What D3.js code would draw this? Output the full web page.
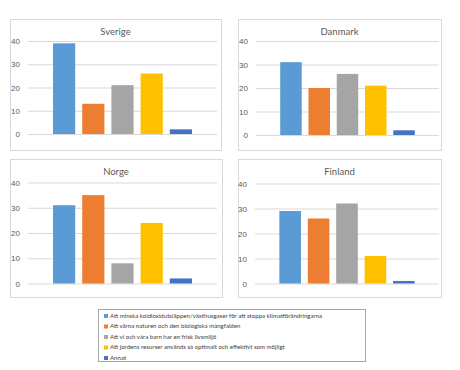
<!DOCTYPE html>
<html>
<head>
<meta charset="utf-8">
<script src="https://cdn.jsdelivr.net/npm/d3@7"></script>
<style>
  html, body { margin: 0; padding: 0; background: #fff; }
  svg { display: block; font-family: Lato, "Open Sans", sans-serif; }
</style>
</head>
<body>
<svg id="chart" width="460" height="370"></svg>
<script>
// ---- Data ----
const countries = ["Sverige", "Danmark", "Norge", "Finland"];
const seriesNames = [
  "Att minska koldioxidutsläppen/växthusgaser för att stoppa klimatförändringarna",
  "Att värna naturen och den biologiska mångfalden",
  "Att vi och våra barn har en frisk livsmiljö",
  "Att jordens resurser används så optimalt och effektivt som möjligt",
  "Annat"
];
const sverige = [39, 13, 21, 26, 2];
const danmark = [31, 20, 26, 21, 2];
const norge   = [31, 35, 8, 24, 2];
const finland = [29, 26, 32, 11, 1];
const yTicks = [0, 10, 20, 30, 40];
const colors = ["#5B9BD5", "#ED7D31", "#A5A5A5", "#FFC000", "#4472C4"];

const valuesByCountry = [sverige, danmark, norge, finland];

// ---- Layout ----
const panels = [
  { box: [10, 19, 211, 131], plot: [28, 217, 41, 134], titleY: 33 },
  { box: [238, 19, 203, 131], plot: [256, 439, 41, 135], titleY: 33 },
  { box: [10, 159, 212, 138], plot: [28, 217, 182.5, 283.5], titleY: 173 },
  { box: [238, 159, 203, 138], plot: [255, 439, 183.5, 283.5], titleY: 173 }
];

const svg = d3.select("#chart");

countries.forEach((c, i) => {
  const p = panels[i];
  const vals = valuesByCountry[i];
  const g = svg.append("g");
  const [bx, by, bw, bh] = p.box;
  g.append("rect")
    .attr("x", bx + 0.5).attr("y", by + 0.5)
    .attr("width", bw).attr("height", bh)
    .attr("fill", "#fff").attr("stroke", "#d9d9d9").attr("stroke-width", 1);

  const [x0, x1, yTop, yBot] = p.plot;
  const y = d3.scaleLinear().domain([0, 40]).range([yBot, yTop]);
  const outer = d3.scaleBand().domain([c]).range([x0, x1]).paddingOuter(0.18);
  const inner = d3.scaleBand().domain(d3.range(seriesNames.length))
    .range([outer(c), outer(c) + outer.bandwidth()])
    .paddingInner(0.24).paddingOuter(0);

  // gridlines + tick labels
  const axis = d3.axisLeft(y).tickValues(yTicks).tickSize(-(x1 - x0)).tickPadding(8)
    .tickFormat(d3.format("d"));
  const ax = g.append("g").attr("transform", `translate(${x0},0)`).call(axis);
  ax.select(".domain").remove();
  ax.selectAll(".tick line").attr("stroke", "#d9d9d9").attr("stroke-width", 1);
  ax.selectAll(".tick text").attr("fill", "#595959").attr("font-size", "8px");

  // bars
  g.selectAll("rect.bar").data(vals).enter().append("rect")
    .attr("class", "bar")
    .attr("x", (d, j) => inner(j))
    .attr("width", inner.bandwidth())
    .attr("y", d => y(d))
    .attr("height", d => y(0) - y(d))
    .attr("fill", (d, j) => colors[j]);

  // title
  g.append("text")
    .attr("x", bx + bw / 2).attr("y", p.titleY)
    .attr("text-anchor", "middle").attr("dominant-baseline", "middle")
    .attr("fill", "#595959").attr("font-size", "9.5px")
    .text(c);
});

// ---- Legend ----
const leg = svg.append("g");
leg.append("rect")
  .attr("x", 98.5).attr("y", 309.5).attr("width", 267).attr("height", 52)
  .attr("fill", "#fff").attr("stroke", "#a6a6a6").attr("stroke-width", 1);
seriesNames.forEach((s, j) => {
  const yy = 316 + j * 10.5;
  leg.append("rect")
    .attr("x", 104).attr("y", yy - 2).attr("width", 4).attr("height", 4)
    .attr("fill", colors[j]);
  leg.append("text")
    .attr("x", 110).attr("y", yy)
    .attr("dominant-baseline", "middle")
    .attr("font-size", "6.1px").attr("fill", "#404040")
    .text(s);
});
</script>
</body>
</html>
